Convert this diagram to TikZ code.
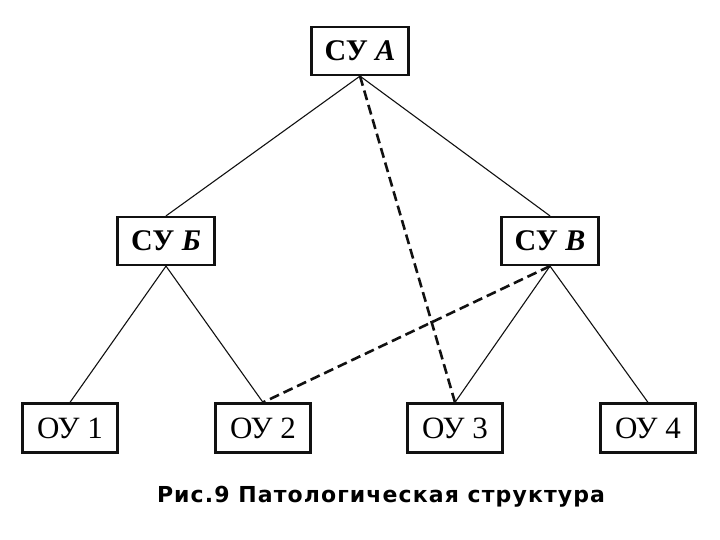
\documentclass[tikz,border=0pt]{standalone}
\usepackage{fontspec}
\setmainfont{Liberation Serif}
\newfontfamily\capfont[LetterSpace=5]{DejaVu Sans}
\usepackage{xcolor}
\definecolor{ink}{HTML}{111111}

\begin{document}
\begin{tikzpicture}[x=0.5pt, y=-0.5pt,
  su/.style={draw=ink, line width=1.1pt, minimum width=48.5pt, minimum height=24pt, inner sep=0pt, font=\fontsize{15}{15}\selectfont\bfseries},
  ou/.style={draw=ink, line width=1.1pt, minimum width=47.5pt, minimum height=24.5pt, inner sep=0pt, font=\fontsize{15.5}{15}\selectfont},
  link/.style={draw=ink, line width=0.55pt},
  bad/.style={draw=ink, line width=1.3pt, dash pattern=on 5pt off 2.5pt}]
\useasboundingbox (0,0) rectangle (720,540);
\node[su] (suA) at (360,51) {СУ \textit{А}};
\node[su] (suB) at (166,241) {СУ \textit{Б}};
\node[su] (suV) at (550,241) {СУ \textit{В}};
\node[ou] (ou1) at (70,428) {ОУ 1};
\node[ou] (ou2) at (263,428) {ОУ 2};
\node[ou] (ou3) at (455,428) {ОУ 3};
\node[ou] (ou4) at (648,428) {ОУ 4};
\draw[link] (suA.south) -- (suB.north);
\draw[link] (suA.south) -- (suV.north);
\draw[link] (suB.south) -- (ou1.north);
\draw[link] (suB.south) -- (ou2.north);
\draw[link] (suV.south) -- (ou3.north);
\draw[link] (suV.south) -- (ou4.north);
% pathological links
\draw[bad] (suA.south) -- (ou3.north);
\draw[bad] (suV.south) -- (ou2.north);
\node[font=\capfont\fontsize{11}{12}\selectfont\bfseries] (cap) at (381,497) {Рис.9 Патологическая структура};
\end{tikzpicture}
\end{document}
